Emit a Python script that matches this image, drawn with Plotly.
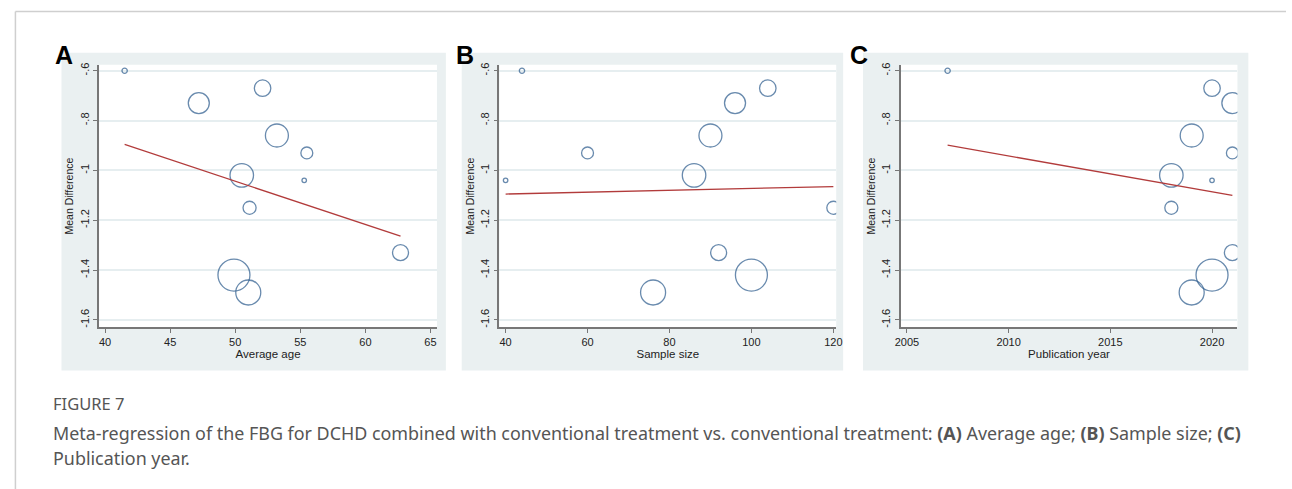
import plotly.graph_objects as go

# ---------------- data ----------------
mean_diff = [-0.60, -0.73, -0.67, -0.86, -0.93, -1.02, -1.04, -1.15, -1.33, -1.42, -1.49]
average_age = [41.5, 47.2, 52.1, 53.2, 55.5, 50.5, 55.3, 51.1, 62.7, 49.9, 51.0]
sample_size = [44, 96, 104, 90, 60, 86, 40, 120, 92, 100, 76]
pub_year = [2007, 2021, 2020, 2019, 2021, 2018, 2020, 2018, 2021, 2020, 2019]
weights = [0.7, 10.9, 6.7, 13.0, 3.5, 13.6, 0.5, 4.2, 6.3, 25.2, 15.4]

# fitted meta-regression lines (slope, intercept)
fit_age = (-0.01738, -0.1744)
fit_size = (0.000375, -1.110)
fit_year = (-0.01436, -0.899 + 0.01436 * 2007)

y_ticks = [-0.6, -0.8, -1.0, -1.2, -1.4, -1.6]
y_ticklabels = ["-.6", "-.8", "-1", "-1.2", "-1.4", "-1.6"]
age_ticks = [40, 45, 50, 55, 60, 65]
size_ticks = [40, 60, 80, 100, 120]
year_ticks = [2005, 2010, 2015, 2020]

panel_letters = ["A", "B", "C"]
x_titles = ["Average age", "Sample size", "Publication year"]
caption_head = "FIGURE 7"
caption_line1 = ("Meta-regression of the FBG for DCHD combined with conventional treatment vs. "
                 "conventional treatment: <b>(A)</b> Average age; <b>(B)</b> Sample size; <b>(C)</b>")
caption_line2 = "Publication year."

# ---------------- geometry ----------------
W, H = 1292, 489
def px(v):
    return v / W
def py(v):
    return 1 - v / H

plot_x = [(94, 435), (498, 838), (903, 1243)]
plot_y = (63, 326.7)
panel_x = [(56, 444), (460, 845), (865, 1254)]
panel_y = (51, 370)
x_ranges = [(39.54, 65.5), (38.48, 120.7), (2004.69, 2021.25)]
y_range = (-1.63, -0.576)
letter_pos = [(59, 53.5), (463.5, 53.5), (861, 53.5)]

NAVY = "#2a5a8c"
RED = "#b23b3b"
GRID = "#e6eef0"
BG = "#eaf0f1"
AXIS = "#777777"
FONT = "Liberation Sans, Arial, sans-serif"

xs_list = [average_age, sample_size, pub_year]
fits = [fit_age, fit_size, fit_year]
tick_list = [age_ticks, size_ticks, year_ticks]

fig = go.Figure()
k = 6.37
sizes = [k * (w ** 0.5) for w in weights]

for i in range(3):
    xa = "x" if i == 0 else f"x{i+1}"
    ya = "y" if i == 0 else f"y{i+1}"
    xs = xs_list[i]
    fig.add_trace(go.Scatter(
        x=xs, y=mean_diff, mode="markers", xaxis=xa, yaxis=ya,
        marker=dict(size=sizes, sizemode="diameter", color="rgba(0,0,0,0)",
                    line=dict(color=NAVY, width=1.3)),
        showlegend=False, hoverinfo="skip"))
    slope, icpt = fits[i]
    xl = [min(xs), max(xs)]
    yl = [icpt + slope * v for v in xl]
    fig.add_trace(go.Scatter(
        x=xl, y=yl, mode="lines", xaxis=xa, yaxis=ya,
        line=dict(color=RED, width=1.3), showlegend=False, hoverinfo="skip"))

layout = dict(
    width=W, height=H, autosize=False, margin=dict(l=0, r=0, t=0, b=0),
    paper_bgcolor="white", plot_bgcolor="white", showlegend=False,
    font=dict(family=FONT, color="#222"),
)
for i in range(3):
    xk = "xaxis" if i == 0 else f"xaxis{i+1}"
    yk = "yaxis" if i == 0 else f"yaxis{i+1}"
    xa = "x" if i == 0 else f"x{i+1}"
    ya = "y" if i == 0 else f"y{i+1}"
    layout[xk] = dict(
        domain=[px(plot_x[i][0]), px(plot_x[i][1])], anchor=ya,
        range=list(x_ranges[i]), tickvals=tick_list[i],
        ticks="outside", ticklen=4, tickcolor=AXIS, tickwidth=1,
        showline=True, linecolor=AXIS, linewidth=1.5, showgrid=False, zeroline=False,
        tickfont=dict(size=11, family=FONT, color="#222"),
        title=dict(text=x_titles[i], font=dict(size=11.5, family=FONT, color="#222"), standoff=2),
    )
    layout[yk] = dict(
        domain=[py(plot_y[1]), py(plot_y[0])], anchor=xa,
        range=list(y_range), tickvals=y_ticks, ticktext=y_ticklabels, tickangle=-90,
        ticks="outside", ticklen=4, tickcolor=AXIS, tickwidth=1,
        showline=True, linecolor=AXIS, linewidth=1.5,
        showgrid=True, gridcolor=GRID, gridwidth=1.5, zeroline=False,
        tickfont=dict(size=11, family=FONT, color="#222"),
        title=dict(text="Mean Difference", font=dict(size=10.5, family=FONT, color="#222"), standoff=3),
    )

shapes = []
# outer frame lines
shapes.append(dict(type="line", xref="paper", yref="paper", x0=px(9.5), x1=1, y0=py(9.5), y1=py(9.5),
                   line=dict(color="#cfcfcf", width=1.5), layer="below"))
shapes.append(dict(type="line", xref="paper", yref="paper", x0=px(9.5), x1=px(9.5), y0=py(9.5), y1=0,
                   line=dict(color="#cfcfcf", width=1.5), layer="below"))
for i in range(3):
    shapes.append(dict(type="rect", xref="paper", yref="paper",
                       x0=px(panel_x[i][0]), x1=px(panel_x[i][1]),
                       y0=py(panel_y[1]), y1=py(panel_y[0]),
                       fillcolor=BG, line=dict(width=0), layer="below"))
    shapes.append(dict(type="rect", xref="paper", yref="paper",
                       x0=px(plot_x[i][0]), x1=px(plot_x[i][1]),
                       y0=py(plot_y[1]), y1=py(plot_y[0]),
                       fillcolor="white", line=dict(width=0), layer="below"))
layout["shapes"] = shapes

annotations = []
for i in range(3):
    annotations.append(dict(text=f"<b>{panel_letters[i]}</b>", xref="paper", yref="paper",
                            x=px(letter_pos[i][0]), y=py(letter_pos[i][1]),
                            xanchor="center", yanchor="middle", showarrow=False,
                            font=dict(size=25, family=FONT, color="black")))
annotations.append(dict(text=caption_head, xref="paper", yref="paper", x=px(45), y=py(403),
                        xanchor="left", yanchor="middle", showarrow=False,
                        font=dict(size=16.5, family="Noto Sans", color="#555")))
annotations.append(dict(text=caption_line1, xref="paper", yref="paper", x=px(45), y=py(433),
                        xanchor="left", yanchor="middle", showarrow=False,
                        font=dict(size=17.9, family="Noto Sans", color="#555")))
annotations.append(dict(text=caption_line2, xref="paper", yref="paper", x=px(45), y=py(458),
                        xanchor="left", yanchor="middle", showarrow=False,
                        font=dict(size=17.9, family="Noto Sans", color="#555")))
layout["annotations"] = annotations

fig.update_layout(**layout)

post = ("document.documentElement.style.margin='0';document.body.style.margin='0';"
        "document.body.style.padding='0';document.body.style.overflow='hidden';")
fig.write_html("out.html", config={"responsive": False, "displayModeBar": False}, post_script=post)
